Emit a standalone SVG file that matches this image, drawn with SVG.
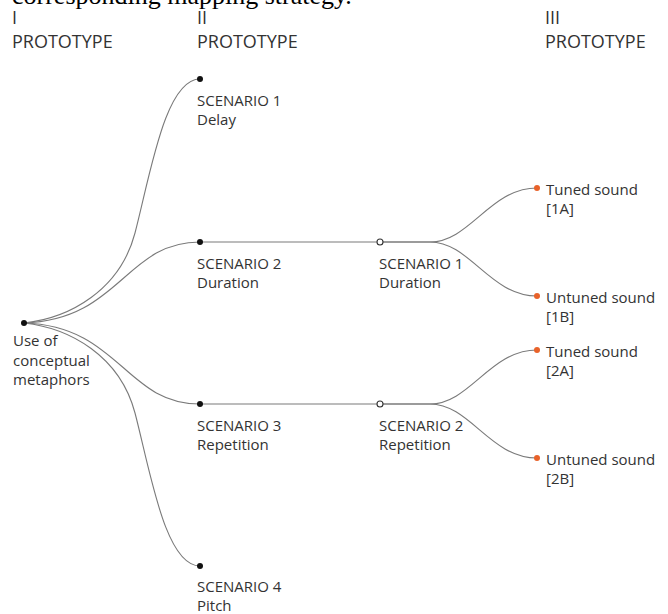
<svg xmlns="http://www.w3.org/2000/svg" width="668" height="614" viewBox="0 0 668 614">
<style>
  .bg { fill: #ffffff; }
  .title { font-family: "Liberation Serif", "Times New Roman", serif; font-size: 26px; fill: #000; }
  .head { font-family: "Open Sans", "Noto Sans", sans-serif; font-size: 18px; fill: #333; }
  .lbl { font-family: "Open Sans", "Noto Sans", sans-serif; font-size: 15px; fill: #333; }
  .edge { fill: none; stroke: #7a7a7a; stroke-width: 1.1; }
  .dot { fill: #111; }
  .open { fill: #fff; stroke: #333; stroke-width: 1.1; }
  .orange { fill: #e8622a; }
</style>
<rect class="bg" x="0" y="0" width="668" height="614"/>
<text class="title" x="12" y="4">corresponding mapping strategy.</text>

<g id="headers">
  <text class="head" x="12" y="24">I</text>
  <text class="head" x="12" y="48">PROTOTYPE</text>
  <text class="head" x="197" y="24">II</text>
  <text class="head" x="197" y="48">PROTOTYPE</text>
  <text class="head" x="545" y="24">III</text>
  <text class="head" x="545" y="48">PROTOTYPE</text>
</g>

<g id="connectors">
  <path class="edge" d="M24,323 C70,318 120,290 135,233 S165,79 200,79"/>
  <path class="edge" d="M24,323 C120,320 125,242 200,242"/>
  <path class="edge" d="M24,323 C120,326 125,404 200,404"/>
  <path class="edge" d="M24,323 C70,328 120,356 135,413 S165,566 200,566"/>
  <path class="edge" d="M200,242 L377,242"/>
  <path class="edge" d="M200,404 L377,404"/>
  <path class="edge" d="M383,242 L430,242 C470,242 490,188 537,188"/>
  <path class="edge" d="M383,242 L430,242 C470,242 490,296 537,296"/>
  <path class="edge" d="M383,404 L430,404 C470,404 490,350 537,350"/>
  <path class="edge" d="M383,404 L430,404 C470,404 490,458 537,458"/>
</g>

<g id="root">
  <circle class="dot" cx="24" cy="323" r="3"/>
  <text class="lbl" x="13" y="346">Use of</text>
  <text class="lbl" x="13" y="366">conceptual</text>
  <text class="lbl" x="13" y="385">metaphors</text>
</g>

<g id="ii-scenario1">
  <circle class="dot" cx="200" cy="79" r="3"/>
  <text class="lbl" x="197" y="106">SCENARIO 1</text>
  <text class="lbl" x="197" y="125">Delay</text>
</g>
<g id="ii-scenario2">
  <circle class="dot" cx="200" cy="242" r="3"/>
  <text class="lbl" x="197" y="269">SCENARIO 2</text>
  <text class="lbl" x="197" y="288">Duration</text>
</g>
<g id="ii-scenario3">
  <circle class="dot" cx="200" cy="404" r="3"/>
  <text class="lbl" x="197" y="431">SCENARIO 3</text>
  <text class="lbl" x="197" y="450">Repetition</text>
</g>
<g id="ii-scenario4">
  <circle class="dot" cx="200" cy="566" r="3"/>
  <text class="lbl" x="197" y="592">SCENARIO 4</text>
  <text class="lbl" x="197" y="611">Pitch</text>
</g>

<g id="iii-scenario1">
  <circle class="open" cx="380" cy="242" r="3"/>
  <text class="lbl" x="379" y="269">SCENARIO 1</text>
  <text class="lbl" x="379" y="288">Duration</text>
</g>
<g id="iii-scenario2">
  <circle class="open" cx="380" cy="404" r="3"/>
  <text class="lbl" x="379" y="431">SCENARIO 2</text>
  <text class="lbl" x="379" y="450">Repetition</text>
</g>

<g id="tuned-1a">
  <circle class="orange" cx="537" cy="188" r="3"/>
  <text class="lbl" x="546" y="195">Tuned sound</text>
  <text class="lbl" x="546" y="214">[1A]</text>
</g>
<g id="untuned-1b">
  <circle class="orange" cx="537" cy="296" r="3"/>
  <text class="lbl" x="546" y="303">Untuned sound</text>
  <text class="lbl" x="546" y="322">[1B]</text>
</g>
<g id="tuned-2a">
  <circle class="orange" cx="537" cy="350" r="3"/>
  <text class="lbl" x="546" y="357">Tuned sound</text>
  <text class="lbl" x="546" y="376">[2A]</text>
</g>
<g id="untuned-2b">
  <circle class="orange" cx="537" cy="458" r="3"/>
  <text class="lbl" x="546" y="465">Untuned sound</text>
  <text class="lbl" x="546" y="484">[2B]</text>
</g>
</svg>
